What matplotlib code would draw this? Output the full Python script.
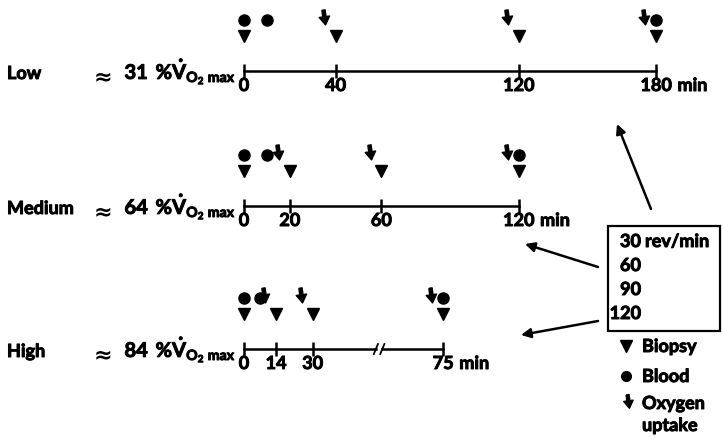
import matplotlib.pyplot as plt
import matplotlib.patheffects as pe
from matplotlib.path import Path
from matplotlib.transforms import Affine2D, offset_copy
from matplotlib.patches import Rectangle

plt.rcParams['font.family'] = ['Lato', 'DejaVu Sans']
plt.rcParams['font.weight'] = 'bold'
plt.rcParams['mathtext.fontset'] = 'custom'
plt.rcParams['mathtext.rm'] = 'Lato:bold'
plt.rcParams['mathtext.it'] = 'Lato:bold'
plt.rcParams['mathtext.bf'] = 'Lato:bold'

# protocol data, times in minutes
rows = ['Low', 'Medium', 'High']
pct_vo2max = [31, 64, 84]
tick_times = [[0, 40, 120, 180], [0, 20, 60, 120], [0, 14, 30, 75]]
biopsy_times = [[0, 40, 120, 180], [0, 20, 60, 120], [0, 14, 30, 75]]
blood_times = [[0, 10, 180], [0, 10, 120], [0, 7, 75]]
o2_times = [[40, 120, 180], [20, 60, 120], [14, 30, 75]]
cadences = [30, 60, 90, 120]

# layout (pixels)
W, H = 722, 439
x0 = 244          # pixel of t = 0
ppm = 2.29        # pixels per minute
row_y = [72, 207, 350]
high_break = 30   # axis break on the High row after this time
high_pad = 12     # extra display minutes after the break
fs = 13
heavy = [pe.withStroke(linewidth=0.7, foreground='k')]
tkw = dict(fontsize=fs, path_effects=heavy)

fig = plt.figure(figsize=(W / 100, H / 100), dpi=100)
ax = fig.add_axes([0, 0, 1, 1])
ax.set_xlim(-x0 / ppm, (W - x0) / ppm)
ax.set_ylim(H, 0)
ax.axis('off')

lay = fig.add_axes([0, 0, 1, 1])
lay.set_xlim(0, W)
lay.set_ylim(H, 0)
lay.axis('off')
lay.patch.set_alpha(0)

# bold down arrow for oxygen uptake
arrow_verts = [(-0.22, 1), (0.22, 1), (0.22, 0.1), (0.7, 0.1), (0, -1),
               (-0.7, 0.1), (-0.22, 0.1), (-0.22, 1)]
arrow_marker = Path(arrow_verts).transformed(Affine2D().rotate_deg(8))
o2_trans = offset_copy(ax.transData, fig=fig, x=-8.5, units='points')

for i, name in enumerate(rows):
    y = row_y[i]
    broken = name == 'High'

    def disp(ts):
        return [t + high_pad if (broken and t > high_break) else t for t in ts]

    end = disp(tick_times[i])[-1]
    if broken:
        brk = (high_break + end) / 2 + 0.5
        s = 1.4
        ax.plot([0, brk - s], [y, y], color='k', lw=1.8)
        ax.plot([brk + s, end], [y, y], color='k', lw=1.8)
        for c in (brk - s, brk + s):
            ax.plot([c - 0.9, c + 0.9], [y + 5, y - 5], color='k', lw=1.3)
    else:
        ax.plot([0, end], [y, y], color='k', lw=1.8)

    ax.vlines(disp(tick_times[i]), y - 7, y + 7, color='k', lw=1.8)
    for t, xd in zip(tick_times[i], disp(tick_times[i])):
        lab = ax.text(xd, y + 20, str(t), ha='center', va='baseline', **tkw)
    ax.annotate('min', xy=(1, 0), xycoords=lab, xytext=(4, 0),
                textcoords='offset points', ha='left', va='bottom', **tkw)

    ax.plot(disp(biopsy_times[i]), [y - 35] * len(biopsy_times[i]), 'v',
            color='k', ms=9, ls='none')
    ax.plot(disp(blood_times[i]), [y - 51] * len(blood_times[i]), 'o',
            color='k', ms=8, ls='none')
    ax.plot(disp(o2_times[i]), [y - 54] * len(o2_times[i]), marker=arrow_marker,
            color='k', ms=11, ls='none', transform=o2_trans)

    lay.text(7, y + 8, name, ha='left', va='baseline', **tkw)
    expr = lay.text(236, y + 8,
                    '%d ' % pct_vo2max[i]
                    + r'$\,\%\dot{V}_{\mathrm{O_2}\ \mathrm{max}}$',
                    ha='right', va='baseline', fontsize=14.5,
                    path_effects=heavy)
    lay.annotate('≈', xy=(0, 0), xycoords=expr, xytext=(-9, 0),
                 textcoords='offset points', ha='right', va='bottom',
                 fontsize=16, family='DejaVu Sans', fontweight='bold')

# cadence box
lay.add_patch(Rectangle((608, 227), 112, 105, fill=False, ec='k', lw=1.6))
for j, c in enumerate(cadences):
    yb = 248 + 24 * j
    lay.text(641, yb, str(c), ha='right', va='baseline', **tkw)
    if j == 0:
        lay.text(645, yb, 'rev/min', ha='left', va='baseline', **tkw)

# arrows from the box to the rows
for tail, head in [((651, 210), (617, 125)),
                   ((598, 268), (525, 245)),
                   ((598, 322), (521, 336))]:
    lay.annotate('', xy=head, xytext=tail,
                 arrowprops=dict(arrowstyle='-|>', color='k', lw=1.8,
                                 mutation_scale=14, shrinkA=0, shrinkB=0))

# key
lay.plot(626, 347, 'v', color='k', ms=8)
lay.text(642, 353, 'Biopsy', ha='left', va='baseline', **tkw)
lay.plot(626, 377, 'o', color='k', ms=7)
lay.text(642, 383, 'Blood', ha='left', va='baseline', **tkw)
lay.plot(628, 402, marker=arrow_marker, color='k', ms=10)
lay.text(642, 410, 'Oxygen', ha='left', va='baseline', **tkw)
lay.text(642, 432, 'uptake', ha='left', va='baseline', **tkw)

fig.savefig('out.png', dpi=100)
